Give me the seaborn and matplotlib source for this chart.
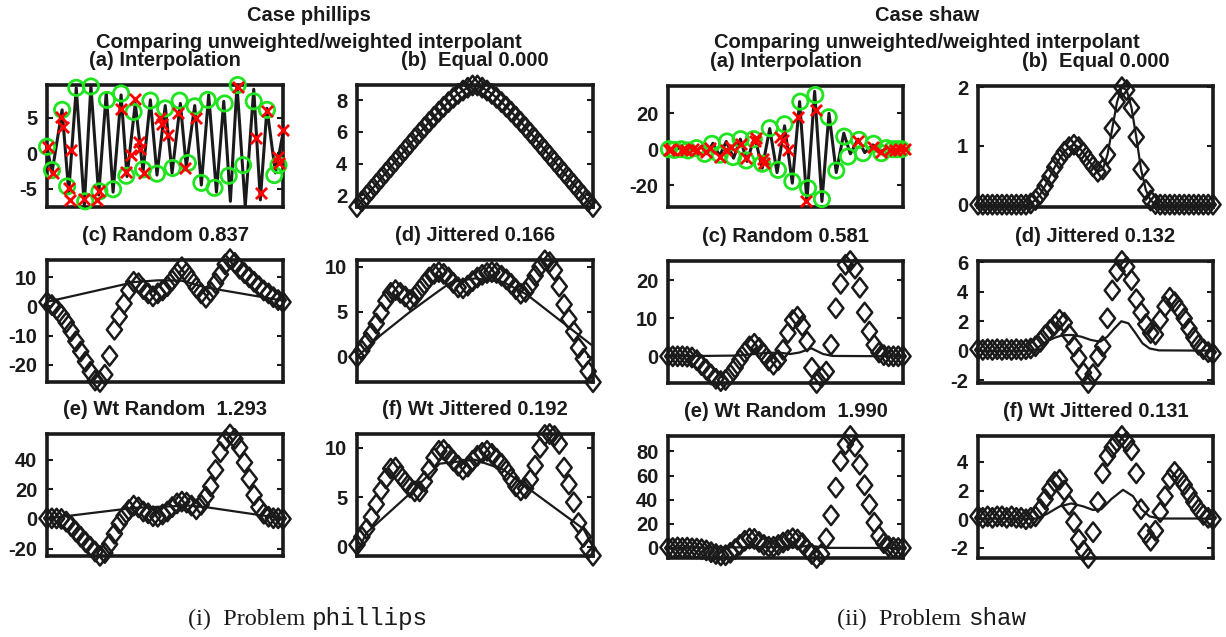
import numpy as np
import matplotlib
matplotlib.use("Agg")
import matplotlib.pyplot as plt
import seaborn as sns
from matplotlib.path import Path

# ---------------- data ----------------
N_GRID = 50  # equally spaced evaluation points for the diamond series

# ---- Problem phillips ----
P_A_LINE_X = [0.000, 0.021, 0.064, 0.092, 0.124, 0.158, 0.186, 0.219, 0.251, 0.280,
              0.314, 0.339, 0.374, 0.407, 0.438, 0.466, 0.501, 0.530, 0.565, 0.590,
              0.626, 0.654, 0.685, 0.718, 0.749, 0.777, 0.805, 0.840, 0.876, 0.904,
              0.932, 0.968, 1.000]
P_A_LINE_Y = [0.9, -2.8, 6.1, -5.5, 9.2, -7.4, 9.5, -5.9, 8.5, -5.5,
              8.2, -3.3, 7.0, -2.6, 7.5, -3.1, 6.7, -2.8, 7.0, -1.9,
              6.7, -4.5, 8.2, -5.5, 7.3, -6.8, 9.6, -7.5, 9.0, -6.6,
              6.3, -2.8, 2.8]
P_A_CIRC_X = [0.000, 0.021, 0.064, 0.085, 0.124, 0.162, 0.186, 0.222, 0.254, 0.280,
              0.314, 0.336, 0.367, 0.407, 0.438, 0.466, 0.501, 0.532, 0.562, 0.597,
              0.626, 0.654, 0.681, 0.710, 0.753, 0.770, 0.808, 0.831, 0.876, 0.932,
              0.963, 0.981]
P_A_CIRC_Y = [0.9, -2.4, 6.1, -4.7, 9.2, -6.8, 9.4, -5.4, 7.5, -5.1,
              8.4, -3.2, 5.8, -2.3, 7.4, -2.9, 6.3, -2.1, 7.4, -1.4,
              6.6, -4.2, 7.5, -4.9, 7.0, -3.2, 9.6, -1.7, 7.3, 6.1,
              -3.1, -1.7]
P_A_CROSS_X = [0.003, 0.025, 0.061, 0.068, 0.102, 0.092, 0.099, 0.155, 0.212, 0.219,
               0.314, 0.336, 0.356, 0.371, 0.388, 0.393, 0.410, 0.480, 0.487, 0.513,
               0.555, 0.583, 0.633, 0.808, 0.887, 0.908, 0.932, 0.977, 1.000, 0.982]
P_A_CROSS_Y = [0.9, -2.8, 5.1, 3.7, 0.4, -4.9, -6.6, -6.5, -6.6, -5.3,
               6.2, -2.6, -0.2, 7.6, 1.6, 0.6, -2.8, 4.9, 4.1, 2.6,
               5.6, -2.1, 4.9, 9.3, 2.1, -5.6, 5.9, -0.5, 3.3, -1.4]

P_B_VALS = [1.26, 1.62, 1.98, 2.34, 2.70, 3.06, 3.42, 3.78, 4.14, 4.50,
            4.86, 5.22, 5.58, 5.93, 6.28, 6.62, 6.95, 7.27, 7.58, 7.87,
            8.14, 8.39, 8.60, 8.78, 8.92, 8.92, 8.78, 8.60, 8.39, 8.14,
            7.87, 7.58, 7.27, 6.95, 6.62, 6.28, 5.93, 5.58, 5.22, 4.86,
            4.50, 4.14, 3.78, 3.42, 3.06, 2.70, 2.34, 1.98, 1.62, 1.26]

P_C_VALS = [1.5, 0.5, -1.0, -3.0, -5.5, -8.5, -12.0, -15.5, -19.0, -22.5,
            -25.5, -26.0, -23.5, -17.0, -8.0, -3.5, 1.0, 5.5, 8.5, 8.0,
            6.0, 4.5, 3.5, 4.5, 5.5, 7.0, 9.0, 11.5, 13.5, 11.5,
            9.0, 6.5, 4.5, 3.0, 5.0, 8.0, 11.0, 14.5, 16.3, 15.0,
            13.0, 11.5, 10.0, 8.5, 7.0, 5.5, 4.5, 3.2, 2.2, 1.5]
P_C_LINE_X = [0.00, 0.37, 0.47, 0.57, 0.67, 1.00]
P_C_LINE_Y = [1.6, 8.4, 9.0, 8.9, 6.6, 2.0]

P_D_VALS = [0.0, 0.7, 1.6, 2.6, 3.7, 4.9, 6.2, 7.1, 7.4, 7.1,
            6.7, 6.3, 6.7, 7.4, 8.1, 8.8, 9.2, 9.4, 9.2, 8.8,
            8.2, 7.7, 7.6, 7.9, 8.4, 8.8, 9.1, 9.3, 9.4, 9.3,
            9.0, 8.6, 8.1, 7.5, 7.0, 7.2, 8.0, 9.0, 10.0, 10.7,
            10.5, 9.6, 7.8, 5.8, 4.2, 2.8, 1.0, -0.2, -1.6, -2.8]
P_D_LINE_X = [0.00, 0.10, 0.22, 0.33, 0.40, 0.50, 0.62, 0.72, 1.00]
P_D_LINE_Y = [0.0, 2.4, 4.9, 7.0, 8.3, 8.7, 8.3, 6.9, 1.2]

P_E_VALS = [0.4, 0.4, 0.3, 0.0, -1.8, -4.8, -8.5, -12.0, -15.5, -18.8,
            -22.0, -24.9, -23.0, -17.0, -10.0, -3.0, 2.0, 6.0, 9.0, 7.8,
            5.0, 3.8, 1.8, 1.5, 3.0, 5.0, 8.0, 10.5, 11.7, 11.0,
            9.0, 6.5, 9.5, 15.0, 22.0, 33.0, 45.0, 53.0, 57.0, 54.0,
            48.0, 38.0, 27.0, 16.0, 8.0, 3.5, 1.5, 0.5, 0.4, 0.0]
P_E_LINE_X = [0.00, 0.37, 0.60, 0.68, 1.00]
P_E_LINE_Y = [0.3, 7.5, 9.0, 7.8, 0.3]

P_F_VALS = [0.2, 1.0, 1.8, 3.0, 4.3, 5.7, 6.9, 7.9, 8.0, 7.2,
            6.6, 6.0, 5.6, 5.6, 6.6, 7.8, 9.0, 9.7, 9.8, 9.3,
            8.7, 8.2, 7.8, 8.1, 8.7, 9.2, 9.5, 9.7, 9.4, 8.9,
            8.4, 7.7, 6.9, 6.1, 5.7, 5.9, 6.8, 8.2, 10.0, 11.3,
            11.4, 11.2, 10.4, 8.0, 6.3, 4.5, 2.4, 1.0, -0.2, -0.9]
P_F_LINE_X = [0.00, 0.04, 0.23, 0.35, 0.50, 0.62, 0.72, 0.96, 1.00]
P_F_LINE_Y = [-0.6, 1.4, 5.5, 8.4, 8.8, 7.8, 6.0, 1.8, 0.0]

# ---- Problem shaw ----
S_A_LINE_X = [0.000, 0.021, 0.043, 0.067, 0.092, 0.118, 0.142, 0.166, 0.191, 0.220,
              0.248, 0.279, 0.308, 0.336, 0.369, 0.401, 0.433, 0.464, 0.496, 0.529,
              0.560, 0.591, 0.624, 0.655, 0.685, 0.716, 0.748, 0.776, 0.809, 0.837,
              0.872, 0.904, 0.936, 0.965, 1.000]
S_A_LINE_Y = [0.0, -0.7, 0.6, -0.7, 0.7, -1.3, 1.5, -2.6, 3.3, -3.7,
              4.3, -5.0, 5.6, -6.8, 7.0, -10.6, 11.5, -13.0, 13.0, -18.9,
              26.5, -29.1, 32.2, -29.1, 20.0, -13.0, 8.9, -2.6, 5.6, -1.9,
              2.4, -1.3, 0.7, -0.4, 0.0]
S_A_CIRC_X = [0.004, 0.028, 0.057, 0.085, 0.121, 0.156, 0.187, 0.220, 0.251, 0.277,
              0.309, 0.333, 0.365, 0.401, 0.433, 0.468, 0.496, 0.529, 0.563, 0.596,
              0.627, 0.655, 0.684, 0.716, 0.750, 0.766, 0.813, 0.830, 0.875, 0.908,
              0.929, 0.955, 0.974, 0.993]
S_A_CIRC_Y = [0.0, -0.4, 0.0, -0.7, 0.6, -2.6, 3.0, -3.1, 4.3, -4.4,
              5.6, -6.3, 5.6, -8.1, 11.7, -11.5, 13.9, -18.0, 26.5, -21.7,
              30.2, -27.8, 17.8, -11.9, 7.0, -4.1, 5.2, -2.2, 3.0, -2.2,
              0.6, 0.0, 0.0, 0.0]
S_A_CROSS_X = [0.004, 0.014, 0.061, 0.075, 0.123, 0.163, 0.177, 0.220, 0.270, 0.312,
               0.333, 0.369, 0.376, 0.404, 0.407, 0.478, 0.489, 0.511, 0.553, 0.589,
               0.628, 0.809, 0.872, 0.908, 0.943, 0.965, 0.986, 1.007, 0.248, 0.106]
S_A_CROSS_Y = [-0.4, 0.0, -0.4, -0.7, -0.4, -1.3, 0.6, -4.1, 1.5, 3.0,
               -5.0, 4.3, 6.1, -5.6, -7.8, 7.0, 5.2, -0.4, 17.8, -29.1,
               21.9, 4.3, 1.5, -1.3, -0.4, -0.7, 0.0, 0.0, -0.4, 0.0]

S_B_VALS = [0.0, 0.0, 0.0, 0.0, 0.0, 0.0, 0.0, 0.0, 0.0, 0.0,
            0.0, 0.02, 0.08, 0.18, 0.32, 0.48, 0.64, 0.78, 0.90, 0.98,
            1.02, 0.98, 0.88, 0.76, 0.65, 0.56, 0.60, 0.85, 1.30, 1.75,
            2.00, 1.95, 1.65, 1.15, 0.60, 0.25, 0.07, 0.01, 0.0, 0.0,
            0.0, 0.0, 0.0, 0.0, 0.0, 0.0, 0.0, 0.0, 0.0, 0.0]

S_C_VALS = [0.0, 0.0, 0.0, 0.0, -0.1, -0.3, -1.0, -2.3, -3.5, -4.8,
            -5.9, -6.5, -6.2, -4.8, -3.0, -0.9, 1.0, 2.6, 3.3, 2.2,
            0.6, -1.1, -2.2, -1.0, 1.7, 6.1, 9.5, 10.4, 8.0, 3.9,
            -3.0, -7.0, -5.5, -4.0, 3.0, 12.6, 19.0, 24.0, 25.0, 23.0,
            18.0, 11.5, 6.5, 3.0, 1.0, 0.3, 0.0, 0.0, 0.0, 0.0]
S_C_LINE_X = [0.00, 0.30, 0.40, 0.47, 0.52, 0.56, 0.61, 0.66, 0.70, 1.00]
S_C_LINE_Y = [0.0, 0.2, 0.8, 1.0, 0.6, 1.0, 2.1, 0.6, 0.1, 0.0]

S_D_VALS = [0.10, 0.05, 0.10, 0.05, 0.10, 0.05, 0.10, 0.05, 0.10, 0.05,
            0.10, 0.15, 0.30, 0.60, 1.05, 1.40, 1.75, 2.10, 1.90, 1.10,
            0.30, -0.50, -1.50, -2.20, -1.60, -0.40, 0.30, 2.20, 4.10, 5.40,
            6.10, 5.70, 4.80, 3.50, 2.60, 1.80, 1.20, 1.10, 2.10, 3.00,
            3.60, 3.30, 2.80, 2.20, 1.50, 0.90, 0.40, 0.10, -0.10, -0.20]
S_D_LINE_X = [0.00, 0.24, 0.27, 0.30, 0.33, 0.36, 0.40, 0.44, 0.48, 0.52,
              0.55, 0.58, 0.61, 0.64, 0.67, 0.70, 0.73, 0.77, 1.00]
S_D_LINE_Y = [0.0, 0.0, 0.4, 0.7, 0.9, 1.05, 1.07, 0.95, 0.73, 0.61,
              0.95, 1.5, 2.0, 1.86, 1.2, 0.5, 0.15, 0.02, 0.0]

S_E_VALS = [0.5, 0.0, 0.5, 0.0, 0.3, -0.3, -0.5, -1.0, -2.0, -3.5,
            -5.0, -6.2, -6.0, -4.0, -1.0, 2.5, 6.0, 7.8, 7.5, 5.0,
            2.5, 1.0, 1.0, 2.5, 4.5, 6.5, 8.0, 7.0, 4.0, -1.0,
            -5.0, -8.3, -5.0, 8.0, 27.0, 50.0, 72.0, 86.0, 92.8, 84.0,
            69.0, 52.0, 36.0, 21.0, 10.0, 4.0, 1.4, 0.3, 0.0, 0.0]
S_E_LINE_X = [0.00, 0.45, 0.55, 0.60, 0.63, 0.68, 1.00]
S_E_LINE_Y = [0.0, 0.8, 0.6, 2.0, 1.2, 0.1, 0.0]

S_F_VALS = [0.2, 0.1, 0.2, 0.1, 0.2, 0.2, 0.1, 0.2, 0.1, 0.1,
            0.0, 0.1, 0.2, 0.7, 1.4, 2.1, 2.6, 2.75, 2.0, 1.0,
            -0.2, -1.4, -2.2, -2.7, -0.9, 1.2, 3.2, 4.4, 5.0, 5.4,
            5.8, 5.4, 4.8, 3.2, 0.7, -1.0, -1.5, -0.8, 0.5, 1.6,
            2.8, 3.3, 2.9, 2.4, 1.8, 1.2, 0.7, 0.3, 0.1, 0.0]
S_F_LINE_X = [0.000, 0.248, 0.291, 0.348, 0.397, 0.447, 0.489, 0.525, 0.567, 0.617,
              0.660, 0.695, 0.730, 0.773, 1.000]
S_F_LINE_Y = [0.05, 0.05, 0.35, 0.9, 1.1, 0.9, 0.65, 0.7, 1.4, 2.05,
              1.6, 0.7, 0.2, 0.05, 0.05]

# titles / ticks
P_TITLES = ["(a) Interpolation", "(b)  Equal 0.000", "(c) Random 0.837",
            "(d) Jittered 0.166", "(e) Wt Random  1.293", "(f) Wt Jittered 0.192"]
S_TITLES = ["(a) Interpolation", "(b)  Equal 0.000", "(c) Random 0.581",
            "(d) Jittered 0.132", "(e) Wt Random  1.990", "(f) Wt Jittered 0.131"]
P_YTICKS = [[-5, 0, 5], [2, 4, 6, 8], [-20, -10, 0, 10], [0, 5, 10], [-20, 0, 20, 40], [0, 5, 10]]
S_YTICKS = [[-20, 0, 20], [0, 1, 2], [0, 10, 20], [-2, 0, 2, 4, 6], [0, 20, 40, 60, 80], [-2, 0, 2, 4]]
P_YLIMS = [(-7.6, 9.6), (1.26, 8.95), (-26.0, 16.0), (-2.78, 10.74), (-25.0, 57.3), (-0.93, 11.4)]
S_YLIMS = [(-32.2, 35.2), (-0.04, 2.02), (-7.0, 25.0), (-2.2, 6.1), (-8.3, 92.8), (-2.7, 5.8)]

# ---------------- style ----------------
sns.set_theme(style="white")
plt.rcParams["font.family"] = ["Liberation Sans", "DejaVu Sans"]
plt.rcParams["font.weight"] = "bold"
plt.rcParams["axes.unicode_minus"] = False

W, H = 1226, 637
fig = plt.figure(figsize=(W / 100, H / 100), dpi=100)
fig.patch.set_facecolor("white")

DIAMOND = Path([(0, 1), (0.78, 0), (0, -1), (-0.78, 0), (0, 1)],
               [Path.MOVETO, Path.LINETO, Path.LINETO, Path.LINETO, Path.CLOSEPOLY])
GREEN = "#1fe41f"
grid = np.linspace(0, 1, N_GRID)


def make_ax(left, top, width, height):
    return fig.add_axes([left / W, 1 - (top + height) / H, width / W, height / H])


def style(ax, ylim, yticks, title):
    ax.set_xlim(0, 1)
    ax.set_ylim(*ylim)
    ax.set_xticks([])
    ax.set_yticks(yticks)
    ax.set_yticklabels([str(v) for v in yticks])
    ax.tick_params(axis="y", direction="in", length=4, width=1.5, left=True, right=True,
                   labelsize=14.5, pad=7, colors="k")
    for s in ax.spines.values():
        s.set_visible(True)
        s.set_linewidth(2.6)
        s.set_color("k")
    ax.set_title(title, fontsize=14.5, fontweight="bold", pad=14, color="k")
    ax.set_xlabel("")
    ax.set_ylabel("")
    ax.grid(False)


def line(ax, x, y, lw=1.6):
    sns.lineplot(x=x, y=y, ax=ax, color="k", lw=lw, sort=False, estimator=None,
                 clip_on=False, zorder=3)


def diamonds(ax, vals):
    sns.scatterplot(x=grid, y=vals, ax=ax, marker=DIAMOND, s=14 ** 2, facecolor="none",
                    edgecolor="k", linewidth=1.8, clip_on=False, zorder=4)


def interp_panel(ax, lx, ly, cx, cy, xx, xy):
    line(ax, lx, ly, lw=2.2)
    sns.scatterplot(x=cx, y=cy, ax=ax, marker="o", s=11 ** 2, facecolor="none",
                    edgecolor=GREEN, linewidth=2.0, clip_on=False, zorder=4)
    sns.scatterplot(x=xx, y=xy, ax=ax, marker="x", s=8 ** 2, color="red",
                    linewidth=2.0, clip_on=False, zorder=5)


# layout (pixels): columns and rows
P_COLS = [(47, 236), (357, 236)]
P_ROWS = [(85, 122), (260, 122), (434, 122)]
S_COLS = [(668, 235), (978, 235)]
S_ROWS = [(86, 121), (261, 122), (436, 122)]

P_SERIES = [None, (P_B_VALS, grid, P_B_VALS), (P_C_VALS, P_C_LINE_X, P_C_LINE_Y),
            (P_D_VALS, P_D_LINE_X, P_D_LINE_Y), (P_E_VALS, P_E_LINE_X, P_E_LINE_Y),
            (P_F_VALS, P_F_LINE_X, P_F_LINE_Y)]
S_SERIES = [None, (S_B_VALS, grid, S_B_VALS), (S_C_VALS, S_C_LINE_X, S_C_LINE_Y),
            (S_D_VALS, S_D_LINE_X, S_D_LINE_Y), (S_E_VALS, S_E_LINE_X, S_E_LINE_Y),
            (S_F_VALS, S_F_LINE_X, S_F_LINE_Y)]

for cols, rows, series, titles, yticks, ylims, interp in [
        (P_COLS, P_ROWS, P_SERIES, P_TITLES, P_YTICKS, P_YLIMS,
         (P_A_LINE_X, P_A_LINE_Y, P_A_CIRC_X, P_A_CIRC_Y, P_A_CROSS_X, P_A_CROSS_Y)),
        (S_COLS, S_ROWS, S_SERIES, S_TITLES, S_YTICKS, S_YLIMS,
         (S_A_LINE_X, S_A_LINE_Y, S_A_CIRC_X, S_A_CIRC_Y, S_A_CROSS_X, S_A_CROSS_Y))]:
    for k in range(6):
        left, width = cols[k % 2]
        top, height = rows[k // 2]
        ax = make_ax(left, top, width, height)
        if k == 0:
            interp_panel(ax, *interp)
        else:
            vals, lx, ly = series[k]
            line(ax, lx, ly)
            diamonds(ax, vals)
        style(ax, ylims[k], yticks[k], titles[k])

# figure-level titles
for cx, name in [(309, "Case phillips"), (927, "Case shaw")]:
    fig.text(cx / W, 1 - 21 / H, name, ha="center", va="baseline", fontsize=14.5,
             fontweight="bold", color="k")
    fig.text(cx / W, 1 - 48 / H, "Comparing unweighted/weighted interpolant", ha="center",
             va="baseline", fontsize=14.5, fontweight="bold", color="k")

# sub-figure captions
for split, label, prob in [(312, "(i)  Problem", "phillips"), (968, "(ii)  Problem", "shaw")]:
    fig.text((split - 7) / W, 1 - 625 / H, label, ha="right", va="baseline", fontsize=17.5,
             family=["Liberation Serif", "DejaVu Serif"], fontweight="normal", color="k")
    fig.text(split / W, 1 - 625 / H, prob, ha="left", va="baseline", fontsize=17.5,
             family=["Liberation Mono", "DejaVu Sans Mono"], fontweight="normal", color="k")

fig.savefig("out.png", dpi=100, facecolor="white")
